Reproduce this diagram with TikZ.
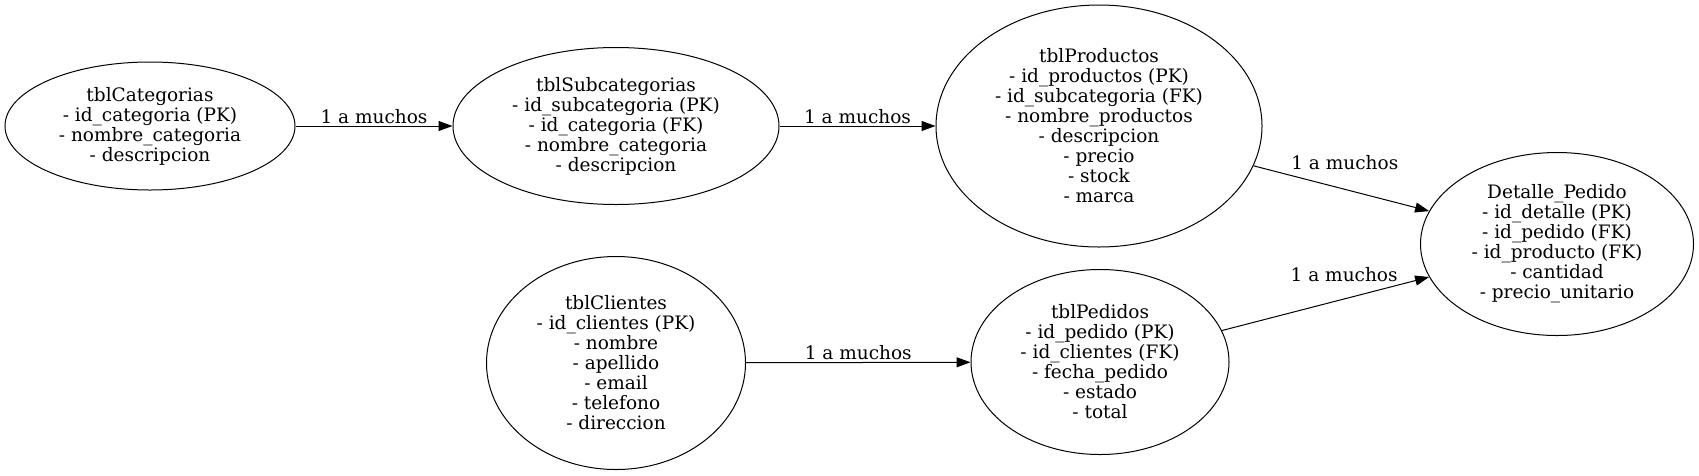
\documentclass[tikz,border=0pt]{standalone}
\usepackage{fontspec}
\setmainfont{DejaVu Serif}
\usetikzlibrary{shapes.geometric,arrows.meta}
\begin{document}
\begin{tikzpicture}[x=1pt,y=-1pt,
  tbl/.style={ellipse, draw, line width=1pt, inner sep=0pt, align=center, font=\fontsize{18.5}{20}\selectfont},
  rel/.style={-{Triangle[length=14pt,width=10pt]}, line width=1pt},
  lbl/.style={above, inner sep=2pt, font=\fontsize{18.5}{20}\selectfont}]
\useasboundingbox (0,0) rectangle (1699,475);
\node[tbl, minimum width=290pt, minimum height=128pt] (cat) at (150,126){tblCategorias\\- id\_categoria (PK)\\- nombre\_categoria\\- descripcion};
\node[tbl, minimum width=326pt, minimum height=157pt] (subcat) at (616,126){tblSubcategorias\\- id\_subcategoria (PK)\\- id\_categoria (FK)\\- nombre\_categoria\\- descripcion};
\node[tbl, minimum width=326pt, minimum height=242pt] (prod) at (1099,126){tblProductos\\- id\_productos (PK)\\- id\_subcategoria (FK)\\- nombre\_productos\\- descripcion\\- precio\\- stock\\- marca};
\node[tbl, minimum width=273pt, minimum height=183pt] (det) at (1557,244){Detalle\_Pedido\\- id\_detalle (PK)\\- id\_pedido (FK)\\- id\_producto (FK)\\- cantidad\\- precio\_unitario};
\node[tbl, minimum width=259pt, minimum height=213pt] (cli) at (616,363){tblClientes\\- id\_clientes (PK)\\- nombre\\- apellido\\- email\\- telefono\\- direccion};
\node[tbl, minimum width=258pt, minimum height=185pt] (ped) at (1100,362){tblPedidos\\- id\_pedido (PK)\\- id\_clientes (FK)\\- fecha\_pedido\\- estado\\- total};
% relaciones
\draw[rel] (cat) -- node[lbl]{1 a muchos} (subcat);
\draw[rel] (subcat) -- node[lbl]{1 a muchos} (prod);
\draw[rel] (cli) -- node[lbl]{1 a muchos} (ped);
\draw[rel] (prod) -- node[lbl, pos=0.52, above=17pt]{1 a muchos} (det);
\draw[rel] (ped) -- node[lbl, pos=0.59, above=15pt]{1 a muchos} (det);
\end{tikzpicture}
\end{document}
